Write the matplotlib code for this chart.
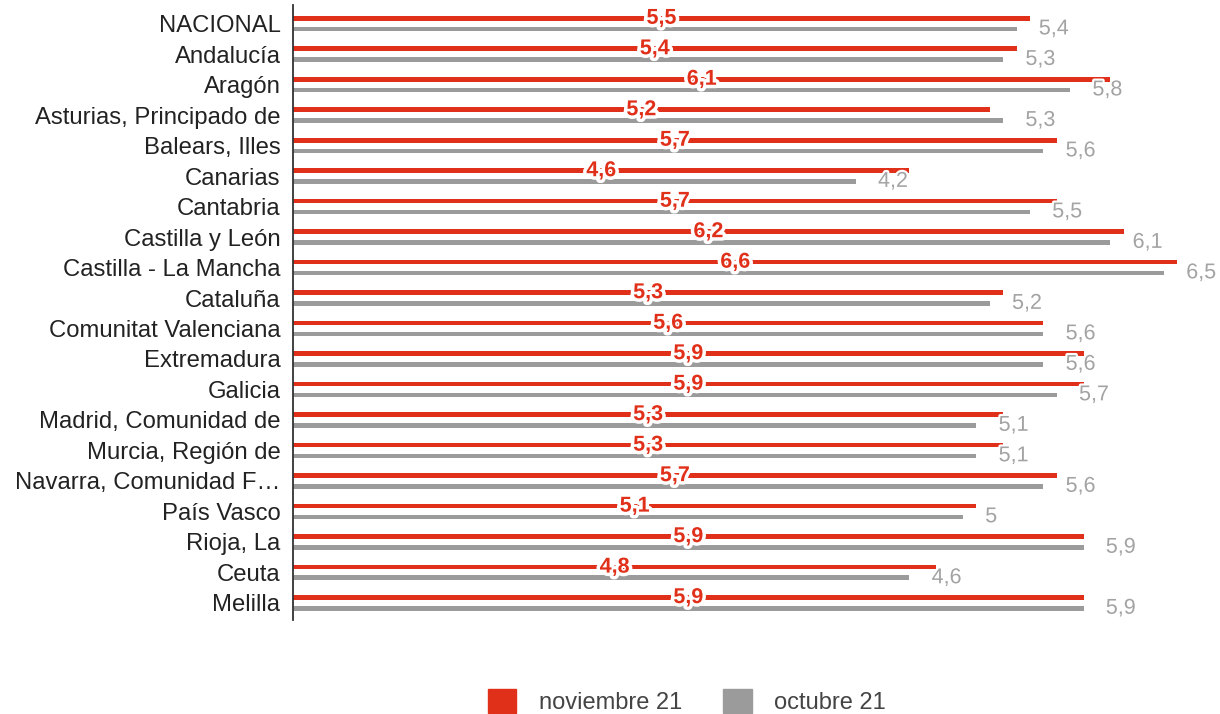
import matplotlib.pyplot as plt
import matplotlib.patheffects as pe
from matplotlib.patches import Patch

# DATOS
regiones = ['NACIONAL', 'Andalucía', 'Aragón', 'Asturias, Principado de',
            'Balears, Illes', 'Canarias', 'Cantabria', 'Castilla y León',
            'Castilla - La Mancha', 'Cataluña', 'Comunitat Valenciana',
            'Extremadura', 'Galicia', 'Madrid, Comunidad de', 'Murcia, Región de',
            'Navarra, Comunidad F…', 'País Vasco', 'Rioja, La', 'Ceuta', 'Melilla']
noviembre = [5.5, 5.4, 6.1, 5.2, 5.7, 4.6, 5.7, 6.2, 6.6, 5.3,
             5.6, 5.9, 5.9, 5.3, 5.3, 5.7, 5.1, 5.9, 4.8, 5.9]
octubre = [5.4, 5.3, 5.8, 5.3, 5.6, 4.2, 5.5, 6.1, 6.5, 5.2,
           5.6, 5.6, 5.7, 5.1, 5.1, 5.6, 5.0, 5.9, 4.6, 5.9]
series = ['noviembre 21', 'octubre 21']

rojo = '#e1301a'
gris = '#9b9b9b'

plt.rcParams['font.family'] = ['Liberation Sans', 'DejaVu Sans']


def fmt(v):
    return f'{v:g}'.replace('.', ',')


fig = plt.figure(figsize=(12.2, 7.14), dpi=100)
ax = fig.add_axes([293 / 1220, 94 / 714, 927 / 1220, 615 / 714])

y = list(range(len(regiones)))
off = 0.175
alto = 0.15

ax.barh([i - off for i in y], noviembre, height=alto, color=rojo)
ax.barh([i + off for i in y], octubre, height=alto, color=gris)

# etiquetas
for i, v in enumerate(octubre):
    ax.annotate(fmt(v), (v, i + off), xytext=(16, 0), textcoords='offset points',
                ha='left', va='center', fontsize=15.5, color='#a3a3a3',
                path_effects=[pe.withStroke(linewidth=3, foreground='white')])
for i, v in enumerate(noviembre):
    ax.text(v / 2, i - off, fmt(v), ha='center', va='center', fontsize=15.5,
            fontweight='bold', color=rojo,
            path_effects=[pe.withStroke(linewidth=5, foreground='white')])

ax.set_xlim(0, 927 / 134)
ax.set_ylim(19.56, -0.61)
ax.set_yticks(y)
ax.set_yticklabels(regiones, fontsize=17.2, color='#222222')
ax.tick_params(axis='y', length=0, pad=9)
ax.set_xticks([])
for s in ['top', 'right', 'bottom']:
    ax.spines[s].set_visible(False)
ax.spines['left'].set_color('#333333')
ax.spines['left'].set_linewidth(1.3)

handles = [Patch(color=rojo, label=series[0]), Patch(color=gris, label=series[1])]
fig.legend(handles=handles, loc='center', bbox_to_anchor=(0.563, 0.018), ncol=2,
           frameon=False, fontsize=17, handlelength=1.2, handleheight=1.2,
           handletextpad=0.95, columnspacing=1.75, labelcolor='#444444')

fig.savefig('out.png', dpi=100)
